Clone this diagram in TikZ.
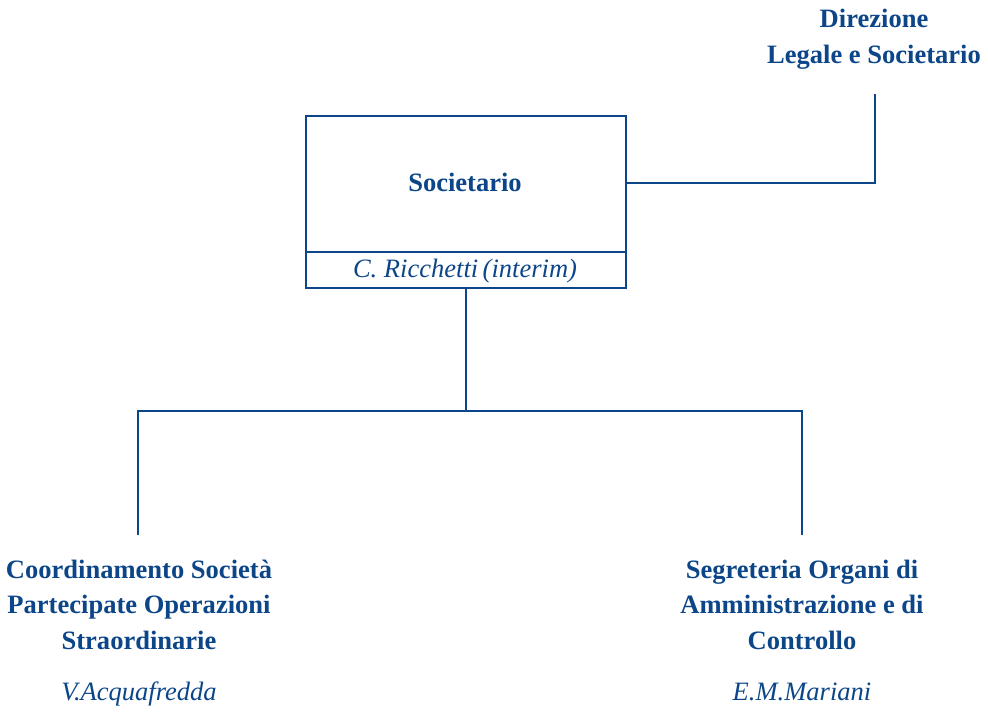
\documentclass[tikz,border=0pt]{standalone}
\usepackage{fontspec}
\setmainfont{Liberation Serif}
\definecolor{orgblue}{RGB}{12,70,136}
\begin{document}
\begin{tikzpicture}[x=0.75pt,y=-0.75pt,
  lbl/.style={text=orgblue,inner sep=0pt,align=center,font=\fontsize{19.9}{26.3}\selectfont\bfseries,anchor=base},
  nm/.style={text=orgblue,inner sep=0pt,font=\fontsize{19.9}{26.3}\selectfont\itshape,anchor=base},
  ln/.style={draw=orgblue,line width=1.6pt}]
\useasboundingbox (0,0) rectangle (988,714);
\node[draw=orgblue,line width=1.6pt,minimum width=320*0.75pt,minimum height=172*0.75pt,inner sep=0pt,anchor=north west] (box) at (304.5,114.5) {};
\coordinate (divL) at (304.5,252);
\coordinate (divR) at (624.5,252);
\draw[ln] (divL) -- (divR);
\node[lbl] (soc) at (465,191.5) {Societario};
\node[nm] (ric) at (465,277) {C. Ricchetti\,(interim)};
\node[lbl] (dir) at (874,63) {Direzione\\Legale e Societario};
\node[lbl] (coord) at (139,649) {Coordinamento Società\\Partecipate Operazioni\\Straordinarie};
\node[nm] (acq) at (139,700) {V.Acquafredda};
\node[lbl] (seg) at (802,649) {Segreteria Organi di\\Amministrazione e di\\Controllo};
\node[nm] (mar) at (802,700) {E.M.Mariani};
\coordinate (dirb) at (875,94);
\coordinate (bus) at (box.south |- 0,411);
\coordinate (lb) at (138,535);
\coordinate (rb) at (802,535);
\draw[ln] (box.east |- 0,183) -| (dirb);
\draw[ln] (box.south) -- (bus);
\draw[ln] (lb) |- (bus) -| (rb);
\end{tikzpicture}
\end{document}
